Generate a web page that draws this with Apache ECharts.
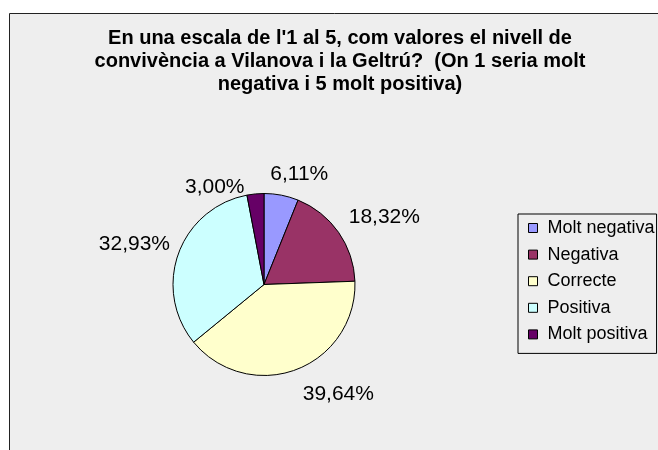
<!DOCTYPE html>
<html>
<head>
<meta charset="utf-8">
<script src="https://cdn.jsdelivr.net/npm/echarts@6/dist/echarts.min.js"></script>
<style>
html, body { margin: 0; padding: 0; background: #fff; }
#main { width: 658px; height: 450px; }
</style>
</head>
<body>
<div id="main"></div>
<script>
var categories = ['Molt negativa', 'Negativa', 'Correcte', 'Positiva', 'Molt positiva'];
var percents = [6.11, 18.32, 39.64, 32.93, 3.00];
var sliceColors = ['#9999ff', '#993366', '#ffffcc', '#ccffff', '#660066'];
var titleLines = [
    "En una escala de l'1 al 5, com valores el nivell de",
    "convivència a Vilanova i la Geltrú?  (On 1 seria molt",
    "negativa i 5 molt positiva)"
];

// small shifts of the data labels (excel "best fit" look)
var labelNudge = [[-18, -11], [-3, -9], [-2, 15], [6, -6], [-5, 3]];

var myChart = echarts.init(document.getElementById('main'));

var pieData = [];
for (var i = 0; i < categories.length; i++) {
    pieData.push({
        name: categories[i],
        value: percents[i],
        itemStyle: { color: sliceColors[i] }
    });
}

var option = {
    backgroundColor: '#ffffff',
    animation: false,
    graphic: [{
        type: 'rect',
        z: -10,
        shape: { x: 9.5, y: 13.5, width: 700, height: 500 },
        style: { fill: '#eeeeee', stroke: '#222222', lineWidth: 1 }
    }],
    title: {
        text: titleLines.join('\n'),
        left: 340,
        top: 27,
        padding: 0,
        textAlign: 'center',
        textStyle: {
            fontFamily: 'Liberation Sans, Arial, sans-serif',
            fontSize: 20,
            fontWeight: 'bold',
            lineHeight: 23,
            color: '#000'
        }
    },
    legend: {
        orient: 'vertical',
        left: 518,
        top: 214,
        padding: [5, 2, 10, 10],
        itemWidth: 9,
        itemHeight: 9,
        itemGap: 8.6,
        icon: 'rect',
        borderColor: '#000',
        borderWidth: 1,
        borderRadius: 0,
        data: categories,
        itemStyle: { borderColor: '#000', borderWidth: 1 },
        textStyle: {
            fontFamily: 'Liberation Sans, Arial, sans-serif',
            fontSize: 18,
            lineHeight: 18,
            color: '#000',
            padding: [0, 0, 0, 5]
        }
    },
    series: [{
        name: 'Convivència',
        type: 'pie',
        center: [264, 284.5],
        radius: 91,
        startAngle: 90,
        clockwise: true,
        itemStyle: { borderColor: '#000', borderWidth: 1 },
        emphasis: { disabled: true },
        label: {
            show: true,
            position: 'outside',
            fontFamily: 'Liberation Sans, Arial, sans-serif',
            fontSize: 21,
            color: '#000',
            formatter: function (p) {
                return p.value.toFixed(2).replace('.', ',') + '%';
            }
        },
        labelLine: { show: false, length: 10, length2: 0 },
        labelLayout: function (p) {
            var n = labelNudge[p.dataIndex];
            return { dx: n[0], dy: n[1] };
        },
        data: pieData
    }]
};

myChart.setOption(option);
</script>
</body>
</html>
